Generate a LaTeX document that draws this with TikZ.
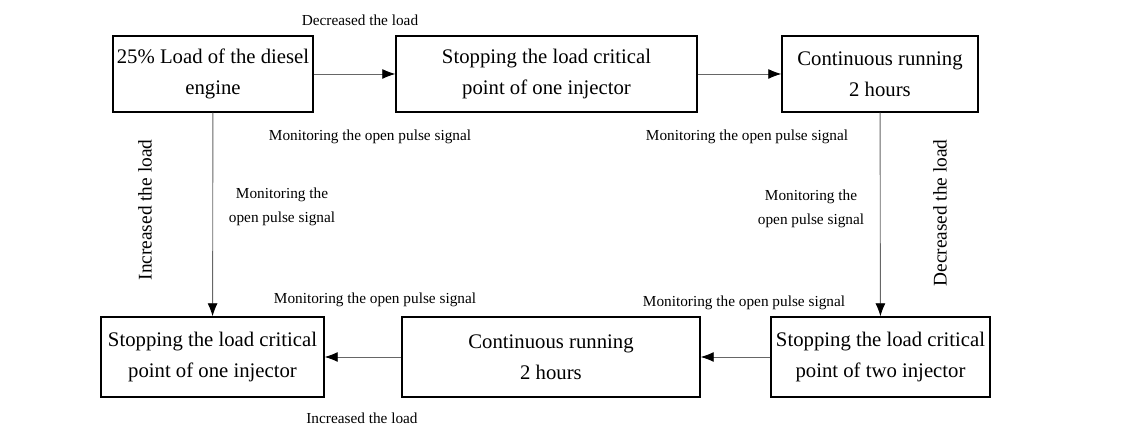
\documentclass[tikz,border=0pt]{standalone}
\usepackage{fontspec}
\setmainfont{Liberation Serif}
\usetikzlibrary{arrows.meta}

\begin{document}
\begin{tikzpicture}[
  stepbox/.style={draw, line width=0.8pt, align=center, inner sep=0pt, font=\rmfamily\fontsize{11.8}{17.5}\selectfont},
  flow/.style={draw=black!60, line width=0.5pt, -{Latex[length=0.26cm, width=0.2cm, black]}},
  note/.style={font=\rmfamily\fontsize{8.7}{14}\selectfont, align=center},
  sidenote/.style={font=\rmfamily\fontsize{11}{13}\selectfont, rotate=90}
]
  \useasboundingbox (0,0) rectangle (22.86,8.58);

  % Top row
  \node[stepbox, minimum width=4cm, minimum height=1.52cm] (load) at (4.26,7.10) {25\% Load of the diesel\\engine};
  \node[stepbox, minimum width=6.02cm, minimum height=1.52cm] (stopone) at (10.93,7.10) {Stopping the load critical\\point of one injector};
  \node[stepbox, minimum width=3.92cm, minimum height=1.52cm] (runtop) at (17.60,7.10) {Continuous running\\2 hours};

  % Bottom row
  \node[stepbox, minimum width=4.46cm, minimum height=1.6cm] (stopend) at (4.25,1.44) {Stopping the load critical\\point of one injector};
  \node[stepbox, minimum width=5.96cm, minimum height=1.6cm] (runbot) at (11.02,1.44) {Continuous running\\2 hours};
  \node[stepbox, minimum width=4.38cm, minimum height=1.6cm] (stoptwo) at (17.61,1.44) {Stopping the load critical\\point of two injector};

  % Connectors
  \draw[flow] (load) -- (stopone);
  \draw[flow] (stopone) -- (runtop);
  \draw[flow] (runtop) -- (stoptwo);
  \draw[flow] (stoptwo) -- (runbot);
  \draw[flow] (runbot) -- (stopend);
  \draw[flow] (load) -- (stopend);

  % Labels
  \node[note] (dectop) at (7.20,8.18) {Decreased the load};
  \node[note] (mon1) at (7.40,5.84) {Monitoring the open pulse signal};
  \node[note] (mon2) at (14.94,5.84) {Monitoring the open pulse signal};
  \node[note] (mon3) at (5.64,4.44) {Monitoring the\\open pulse signal};
  \node[note] (mon4) at (16.22,4.40) {Monitoring the\\open pulse signal};
  \node[note] (mon5) at (7.50,2.58) {Monitoring the open pulse signal};
  \node[note] (mon6) at (14.88,2.52) {Monitoring the open pulse signal};
  \node[note] (incbot) at (7.24,0.22) {Increased the load};
  \node[sidenote] (incside) at (2.90,4.38) {Increased the load};
  \node[sidenote] (decside) at (18.80,4.32) {Decreased the load};
\end{tikzpicture}
\end{document}
